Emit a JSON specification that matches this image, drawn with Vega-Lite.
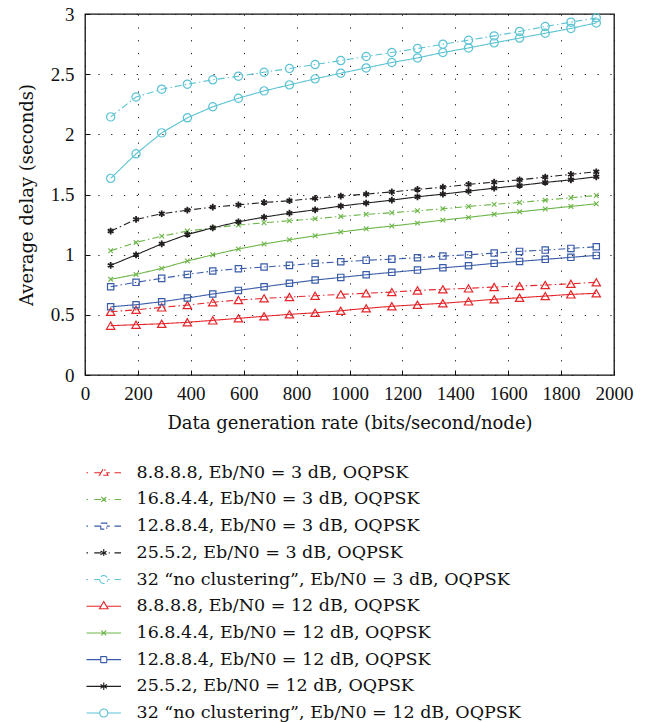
{
  "$schema": "https://vega.github.io/schema/vega-lite/v6.json",
  "width": 529,
  "height": 361,
  "autosize": {"type": "none"},
  "padding": {"left": 85, "top": 14, "right": 36, "bottom": 347},
  "config": {
    "font": "Liberation Serif",
    "view": {"stroke": "#111", "strokeWidth": 1.3},
    "axis": {
      "labelFont": "Liberation Serif", "labelFontSize": 19, "labelColor": "#111",
      "titleFont": "DejaVu Serif", "titleFontSize": 18, "titleFontWeight": "normal", "titleColor": "#111",
      "domain": false, "tickColor": "#111", "tickWidth": 1, "labelOverlap": false, "labelFlush": false,
      "gridColor": "#111", "gridDash": [1.3, 11.5], "gridWidth": 1, "gridOpacity": 0.9
    }
  },
  "data": {"values": [
    {"s":"a3","x":97,"y":0.526},{"s":"a3","x":193,"y":0.542},{"s":"a3","x":290,"y":0.562},{"s":"a3","x":387,"y":0.581},{"s":"a3","x":483,"y":0.604},{"s":"a3","x":580,"y":0.623},{"s":"a3","x":677,"y":0.637},{"s":"a3","x":773,"y":0.648},{"s":"a3","x":870,"y":0.659},{"s":"a3","x":967,"y":0.67},{"s":"a3","x":1063,"y":0.679},{"s":"a3","x":1160,"y":0.689},{"s":"a3","x":1257,"y":0.703},{"s":"a3","x":1353,"y":0.712},{"s":"a3","x":1450,"y":0.72},{"s":"a3","x":1547,"y":0.731},{"s":"a3","x":1643,"y":0.739},{"s":"a3","x":1740,"y":0.748},{"s":"a3","x":1837,"y":0.758},{"s":"a3","x":1933,"y":0.77},
    {"s":"b3","x":97,"y":1.032},{"s":"b3","x":193,"y":1.102},{"s":"b3","x":290,"y":1.154},{"s":"b3","x":387,"y":1.196},{"s":"b3","x":483,"y":1.223},{"s":"b3","x":580,"y":1.246},{"s":"b3","x":677,"y":1.265},{"s":"b3","x":773,"y":1.282},{"s":"b3","x":870,"y":1.298},{"s":"b3","x":967,"y":1.318},{"s":"b3","x":1063,"y":1.335},{"s":"b3","x":1160,"y":1.348},{"s":"b3","x":1257,"y":1.365},{"s":"b3","x":1353,"y":1.381},{"s":"b3","x":1450,"y":1.401},{"s":"b3","x":1547,"y":1.418},{"s":"b3","x":1643,"y":1.434},{"s":"b3","x":1740,"y":1.453},{"s":"b3","x":1837,"y":1.473},{"s":"b3","x":1933,"y":1.492},
    {"s":"c3","x":97,"y":0.733},{"s":"c3","x":193,"y":0.77},{"s":"c3","x":290,"y":0.803},{"s":"c3","x":387,"y":0.836},{"s":"c3","x":483,"y":0.864},{"s":"c3","x":580,"y":0.883},{"s":"c3","x":677,"y":0.897},{"s":"c3","x":773,"y":0.911},{"s":"c3","x":870,"y":0.928},{"s":"c3","x":967,"y":0.941},{"s":"c3","x":1063,"y":0.953},{"s":"c3","x":1160,"y":0.963},{"s":"c3","x":1257,"y":0.974},{"s":"c3","x":1353,"y":0.988},{"s":"c3","x":1450,"y":0.999},{"s":"c3","x":1547,"y":1.013},{"s":"c3","x":1643,"y":1.027},{"s":"c3","x":1740,"y":1.038},{"s":"c3","x":1837,"y":1.052},{"s":"c3","x":1933,"y":1.066},
    {"s":"d3","x":97,"y":1.196},{"s":"d3","x":193,"y":1.293},{"s":"d3","x":290,"y":1.34},{"s":"d3","x":387,"y":1.37},{"s":"d3","x":483,"y":1.395},{"s":"d3","x":580,"y":1.414},{"s":"d3","x":677,"y":1.434},{"s":"d3","x":773,"y":1.448},{"s":"d3","x":870,"y":1.468},{"s":"d3","x":967,"y":1.487},{"s":"d3","x":1063,"y":1.503},{"s":"d3","x":1160,"y":1.522},{"s":"d3","x":1257,"y":1.542},{"s":"d3","x":1353,"y":1.561},{"s":"d3","x":1450,"y":1.584},{"s":"d3","x":1547,"y":1.603},{"s":"d3","x":1643,"y":1.622},{"s":"d3","x":1740,"y":1.645},{"s":"d3","x":1837,"y":1.667},{"s":"d3","x":1933,"y":1.689},
    {"s":"e3","x":97,"y":2.145},{"s":"e3","x":193,"y":2.31},{"s":"e3","x":290,"y":2.375},{"s":"e3","x":387,"y":2.417},{"s":"e3","x":483,"y":2.453},{"s":"e3","x":580,"y":2.483},{"s":"e3","x":677,"y":2.516},{"s":"e3","x":773,"y":2.547},{"s":"e3","x":870,"y":2.58},{"s":"e3","x":967,"y":2.613},{"s":"e3","x":1063,"y":2.647},{"s":"e3","x":1160,"y":2.68},{"s":"e3","x":1257,"y":2.713},{"s":"e3","x":1353,"y":2.749},{"s":"e3","x":1450,"y":2.782},{"s":"e3","x":1547,"y":2.818},{"s":"e3","x":1643,"y":2.855},{"s":"e3","x":1740,"y":2.896},{"s":"e3","x":1837,"y":2.932},{"s":"e3","x":1933,"y":2.968},
    {"s":"a12","x":97,"y":0.41},{"s":"a12","x":193,"y":0.418},{"s":"a12","x":290,"y":0.426},{"s":"a12","x":387,"y":0.438},{"s":"a12","x":483,"y":0.454},{"s":"a12","x":580,"y":0.471},{"s":"a12","x":677,"y":0.488},{"s":"a12","x":773,"y":0.504},{"s":"a12","x":870,"y":0.517},{"s":"a12","x":967,"y":0.534},{"s":"a12","x":1063,"y":0.554},{"s":"a12","x":1160,"y":0.571},{"s":"a12","x":1257,"y":0.584},{"s":"a12","x":1353,"y":0.596},{"s":"a12","x":1450,"y":0.612},{"s":"a12","x":1547,"y":0.629},{"s":"a12","x":1643,"y":0.642},{"s":"a12","x":1740,"y":0.656},{"s":"a12","x":1837,"y":0.67},{"s":"a12","x":1933,"y":0.679},
    {"s":"b12","x":97,"y":0.795},{"s":"b12","x":193,"y":0.836},{"s":"b12","x":290,"y":0.886},{"s":"b12","x":387,"y":0.947},{"s":"b12","x":483,"y":0.999},{"s":"b12","x":580,"y":1.047},{"s":"b12","x":677,"y":1.088},{"s":"b12","x":773,"y":1.124},{"s":"b12","x":870,"y":1.157},{"s":"b12","x":967,"y":1.188},{"s":"b12","x":1063,"y":1.215},{"s":"b12","x":1160,"y":1.238},{"s":"b12","x":1257,"y":1.262},{"s":"b12","x":1353,"y":1.287},{"s":"b12","x":1450,"y":1.31},{"s":"b12","x":1547,"y":1.335},{"s":"b12","x":1643,"y":1.356},{"s":"b12","x":1740,"y":1.379},{"s":"b12","x":1837,"y":1.401},{"s":"b12","x":1933,"y":1.423},
    {"s":"c12","x":97,"y":0.567},{"s":"c12","x":193,"y":0.584},{"s":"c12","x":290,"y":0.609},{"s":"c12","x":387,"y":0.64},{"s":"c12","x":483,"y":0.673},{"s":"c12","x":580,"y":0.703},{"s":"c12","x":677,"y":0.733},{"s":"c12","x":773,"y":0.762},{"s":"c12","x":870,"y":0.789},{"s":"c12","x":967,"y":0.811},{"s":"c12","x":1063,"y":0.833},{"s":"c12","x":1160,"y":0.853},{"s":"c12","x":1257,"y":0.872},{"s":"c12","x":1353,"y":0.891},{"s":"c12","x":1450,"y":0.908},{"s":"c12","x":1547,"y":0.928},{"s":"c12","x":1643,"y":0.944},{"s":"c12","x":1740,"y":0.961},{"s":"c12","x":1837,"y":0.978},{"s":"c12","x":1933,"y":0.994},
    {"s":"d12","x":97,"y":0.911},{"s":"d12","x":193,"y":0.999},{"s":"d12","x":290,"y":1.09},{"s":"d12","x":387,"y":1.168},{"s":"d12","x":483,"y":1.223},{"s":"d12","x":580,"y":1.273},{"s":"d12","x":677,"y":1.312},{"s":"d12","x":773,"y":1.345},{"s":"d12","x":870,"y":1.373},{"s":"d12","x":967,"y":1.404},{"s":"d12","x":1063,"y":1.429},{"s":"d12","x":1160,"y":1.453},{"s":"d12","x":1257,"y":1.481},{"s":"d12","x":1353,"y":1.503},{"s":"d12","x":1450,"y":1.528},{"s":"d12","x":1547,"y":1.553},{"s":"d12","x":1643,"y":1.575},{"s":"d12","x":1740,"y":1.6},{"s":"d12","x":1837,"y":1.622},{"s":"d12","x":1933,"y":1.647},
    {"s":"e12","x":97,"y":1.634},{"s":"e12","x":193,"y":1.838},{"s":"e12","x":290,"y":2.012},{"s":"e12","x":387,"y":2.137},{"s":"e12","x":483,"y":2.229},{"s":"e12","x":580,"y":2.3},{"s":"e12","x":677,"y":2.361},{"s":"e12","x":773,"y":2.411},{"s":"e12","x":870,"y":2.461},{"s":"e12","x":967,"y":2.508},{"s":"e12","x":1063,"y":2.552},{"s":"e12","x":1160,"y":2.597},{"s":"e12","x":1257,"y":2.635},{"s":"e12","x":1353,"y":2.68},{"s":"e12","x":1450,"y":2.718},{"s":"e12","x":1547,"y":2.76},{"s":"e12","x":1643,"y":2.8},{"s":"e12","x":1740,"y":2.84},{"s":"e12","x":1837,"y":2.88},{"s":"e12","x":1933,"y":2.926}
  ]},
  "encoding": {
    "x": {"field": "x", "type": "quantitative", "scale": {"domain": [0, 2000], "nice": false},
      "axis": {"values": [0,200,400,600,800,1000,1200,1400,1600,1800,2000], "format": "d", "grid": true, "tickSize": -5, "labelPadding": 14, "titlePadding": 11, "title": "Data generation rate (bits/second/node)"}},
    "y": {"field": "y", "type": "quantitative", "scale": {"domain": [0, 3], "nice": false},
      "axis": {"values": [0,0.5,1,1.5,2,2.5,3], "format": "~g", "grid": true, "tickSize": -5, "labelPadding": 16, "titlePadding": 14, "title": "Average delay (seconds)"}}
  },
  "layer": [
    {"transform": [{"filter": "datum.x < 0"}],
     "mark": {"type": "point", "filled": false, "size": 100, "strokeWidth": 1.1, "opacity": 1},
     "encoding": {
       "color": {"field": "s", "type": "nominal",
         "scale": {"domain": ["a3","b3","c3","d3","e3","a12","b12","c12","d12","e12"],
                   "range": ["#e5262b","#6cb548","#3a5ca9","#231f20","#5cc3d3","#e5262b","#6cb548","#3a5ca9","#231f20","#5cc3d3"]},
         "legend": {"orient": "none", "legendX": 10, "legendY": 450, "title": null, "direction": "vertical",
           "labelFont": "DejaVu Serif", "labelFontSize": 17.5, "labelColor": "#111", "labelLimit": 600,
           "symbolSize": 100, "symbolStrokeWidth": 1.1, "symbolOpacity": 1, "labelOffset": 24, "rowPadding": 7.7,
           "labelExpr": "({'a3':'8.8.8.8, Eb/N0 = 3 dB, OQPSK','b3':'16.8.4.4, Eb/N0 = 3 dB, OQPSK','c3':'12.8.8.4, Eb/N0 = 3 dB, OQPSK','d3':'25.5.2, Eb/N0 = 3 dB, OQPSK','e3':'32 “no clustering”, Eb/N0 = 3 dB, OQPSK','a12':'8.8.8.8, Eb/N0 = 12 dB, OQPSK','b12':'16.8.4.4, Eb/N0 = 12 dB, OQPSK','c12':'12.8.8.4, Eb/N0 = 12 dB, OQPSK','d12':'25.5.2, Eb/N0 = 12 dB, OQPSK','e12':'32 “no clustering”, Eb/N0 = 12 dB, OQPSK'})[datum.value]"}},
       "shape": {"field": "s", "type": "nominal",
         "scale": {"domain": ["a3","b3","c3","d3","e3","a12","b12","c12","d12","e12"],
           "range": [
             "M-3.45,0H-3.15M-1.9,0H-0.5M0.5,0H1.2M2.15,0H3.45M-0.85,0.5L0,-0.95L0.85,0.5Z",
             "M-3.45,0H-3.15M-1.9,0H1.2M2.15,0H3.45M-0.5,-0.5L0.5,0.5M-0.5,0.5L0.5,-0.5",
             "M-3.45,0H-3.15M-1.9,0H-0.6M0.6,0H1.2M2.15,0H3.45M-0.6,-0.6H0.6V0.6H-0.6Z",
             "M-3.45,0H-3.15M-1.9,0H1.2M2.15,0H3.45M0,-0.75V0.75M-0.65,-0.375L0.65,0.375M-0.65,0.375L0.65,-0.375",
             "M-3.45,0H-3.15M-1.9,0H-0.8M0.8,0H1.2M2.15,0H3.45M-0.8,0A0.8,0.8 0 1,0 0.8,0A0.8,0.8 0 1,0 -0.8,0Z",
             "M-3.45,0H-0.5M0.5,0H3.45M-0.85,0.5L0,-0.95L0.85,0.5Z",
             "M-3.45,0H3.45M-0.5,-0.5L0.5,0.5M-0.5,0.5L0.5,-0.5",
             "M-3.45,0H-0.6M0.6,0H3.45M-0.6,-0.6H0.6V0.6H-0.6Z",
             "M-3.45,0H3.45M0,-0.75V0.75M-0.65,-0.375L0.65,0.375M-0.65,0.375L0.65,-0.375",
             "M-3.45,0H-0.8M0.8,0H3.45M-0.8,0A0.8,0.8 0 1,0 0.8,0A0.8,0.8 0 1,0 -0.8,0Z"
           ]},
         "legend": {"orient": "none", "legendX": 10, "legendY": 450, "title": null, "direction": "vertical",
           "labelFont": "DejaVu Serif", "labelFontSize": 17.5, "labelColor": "#111", "labelLimit": 600,
           "symbolSize": 100, "symbolStrokeWidth": 1.1, "symbolOpacity": 1, "labelOffset": 24, "rowPadding": 7.7,
           "labelExpr": "({'a3':'8.8.8.8, Eb/N0 = 3 dB, OQPSK','b3':'16.8.4.4, Eb/N0 = 3 dB, OQPSK','c3':'12.8.8.4, Eb/N0 = 3 dB, OQPSK','d3':'25.5.2, Eb/N0 = 3 dB, OQPSK','e3':'32 “no clustering”, Eb/N0 = 3 dB, OQPSK','a12':'8.8.8.8, Eb/N0 = 12 dB, OQPSK','b12':'16.8.4.4, Eb/N0 = 12 dB, OQPSK','c12':'12.8.8.4, Eb/N0 = 12 dB, OQPSK','d12':'25.5.2, Eb/N0 = 12 dB, OQPSK','e12':'32 “no clustering”, Eb/N0 = 12 dB, OQPSK'})[datum.value]"}}
     }},
    {"mark": {"type": "line", "strokeWidth": 1.1},
     "encoding": {
       "color": {"field": "s", "type": "nominal", "legend": null},
       "strokeDash": {"field": "s", "type": "nominal",
        "scale": {"domain": ["a3","b3","c3","d3","e3","a12","b12","c12","d12","e12"],
                  "range": [[7,3,1.5,3],[7,3,1.5,3],[7,3,1.5,3],[7,3,1.5,3],[7,3,1.5,3],[1,0],[1,0],[1,0],[1,0],[1,0]]},
        "legend": null}}},
    {"transform": [{"filter": {"field": "s", "oneOf": ["a3","a12"]}}],
     "mark": {"type": "point", "shape": "triangle-up", "filled": false, "size": 70, "strokeWidth": 1.2, "opacity": 1},
     "encoding": {"color": {"field": "s", "type": "nominal", "legend": null}}},
    {"transform": [{"filter": {"field": "s", "oneOf": ["b3","b12"]}}],
     "mark": {"type": "point", "shape": "M-1,-1L1,1M-1,1L1,-1", "filled": false, "size": 22, "strokeWidth": 1.1, "opacity": 1},
     "encoding": {"color": {"field": "s", "type": "nominal", "legend": null}}},
    {"transform": [{"filter": {"field": "s", "oneOf": ["c3","c12"]}}],
     "mark": {"type": "point", "shape": "square", "filled": false, "size": 40, "strokeWidth": 1.2, "opacity": 1},
     "encoding": {"color": {"field": "s", "type": "nominal", "legend": null}}},
    {"transform": [{"filter": {"field": "s", "oneOf": ["d3","d12"]}}],
     "mark": {"type": "point", "shape": "M0,-1V1M-0.87,-0.5L0.87,0.5M-0.87,0.5L0.87,-0.5", "filled": false, "size": 45, "strokeWidth": 1.8, "opacity": 1},
     "encoding": {"color": {"field": "s", "type": "nominal", "legend": null}}},
    {"transform": [{"filter": {"field": "s", "oneOf": ["e3","e12"]}}],
     "mark": {"type": "point", "shape": "circle", "filled": false, "size": 68, "strokeWidth": 1.2, "opacity": 1},
     "encoding": {"color": {"field": "s", "type": "nominal", "legend": null}}}
  ]
}
